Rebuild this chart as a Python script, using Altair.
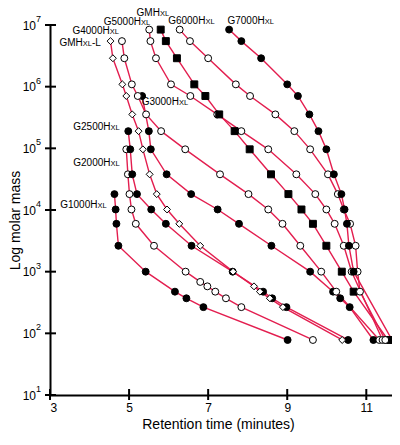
import altair as alt
import pandas as pd

# ---- data ----
# molar-mass levels (standards) in g/mol, index 1..20
MASS = [8.42e6, 5.48e6, 2.89e6, 1.09e6, 7.06e5, 3.55e5, 1.90e5, 9.64e4,
        3.79e4, 1.81e4, 1.02e4, 5.97e3, 2.63e3, 1.0e3, 682, 578, 474, 370, 266, 78]

SERIES = ["G1000HXL", "G2000HXL", "G2500HXL", "G3000HXL", "G4000HXL",
          "G5000HXL", "GMHXL", "G6000HXL", "G7000HXL", "GMHXL-L"]
MARKER = ["dot", "ring", "dot", "dot", "ring", "ring", "square", "ring", "dot", "diamond"]

G1000_LV = [10, 11, 12, 13, 14, 17, 18, 19, 20]
G1000_T = [4.63, 4.66, 4.68, 4.73, 5.42, 6.16, 6.45, 6.88, 9.01]
G2000_LV = [8, 9, 10, 11, 12, 13, 14, 15, 16, 17, 18, 19, 20]
G2000_T = [4.93, 4.97, 5.01, 5.06, 5.17, 5.63, 6.43, 6.80, 6.98, 7.18, 7.45, 7.84, 9.65]
G2500_LV = [7, 8, 9, 10, 11, 12, 13, 14, 17, 18, 19, 20]
G2500_T = [4.98, 5.03, 5.08, 5.20, 5.56, 5.93, 6.58, 7.62, 8.39, 8.62, 8.98, 10.54]
G3000_LV = [5, 7, 8, 9, 10, 11, 12, 13, 14, 17, 18, 19, 20]
G3000_T = [5.33, 5.50, 5.55, 5.95, 6.57, 7.24, 7.78, 8.60, 9.58, 10.16, 10.34, 10.58, 11.18]
G4000_LV = [2, 3, 4, 5, 6, 7, 8, 9, 10, 11, 12, 13, 14, 17, 20]
G4000_T = [4.82, 4.88, 5.07, 5.22, 5.43, 5.81, 6.42, 7.30, 8.02, 8.52, 8.88, 9.33, 9.86, 10.24, 11.33]
G5000_LV = [1, 2, 3, 4, 5, 6, 7, 8, 9, 10, 11, 12, 13, 14, 20]
G5000_T = [5.51, 5.54, 5.68, 6.06, 6.55, 7.23, 7.84, 8.52, 9.23, 9.71, 9.99, 10.20, 10.43, 10.63, 11.41]
GMH_LV = [1, 2, 3, 4, 5, 6, 7, 8, 9, 10, 11, 12, 13, 14, 17, 20]
GMH_T = [5.80, 5.93, 6.21, 6.65, 6.93, 7.28, 7.67, 8.05, 8.59, 9.03, 9.36, 9.65, 9.99, 10.38, 10.68, 11.55]
G6000_LV = [1, 2, 3, 4, 5, 6, 7, 8, 9, 10, 11, 12, 13, 14, 17, 20]
G6000_T = [6.28, 6.54, 7.00, 7.70, 8.06, 8.70, 9.18, 9.58, 10.03, 10.28, 10.43, 10.59, 10.73, 10.78, 10.84, 11.48]
G7000_LV = [1, 2, 3, 4, 5, 6, 7, 8, 9, 10, 11, 12, 13, 14, 20]
G7000_T = [7.53, 7.84, 8.34, 9.00, 9.27, 9.56, 9.79, 9.99, 10.18, 10.37, 10.45, 10.51, 10.56, 10.68, 11.65]
GMHL_LV = [2, 3, 4, 5, 6, 7, 8, 9, 10, 11, 12, 13, 14, 16, 17, 18, 19, 20]
GMHL_T = [4.53, 4.59, 4.83, 4.93, 5.08, 5.24, 5.35, 5.52, 5.70, 5.96, 6.27, 6.80, 7.63, 8.16, 8.31, 8.56, 8.89, 10.39]

LEVELS = [G1000_LV, G2000_LV, G2500_LV, G3000_LV, G4000_LV, G5000_LV, GMH_LV, G6000_LV, G7000_LV, GMHL_LV]
TIMES = [G1000_T, G2000_T, G2500_T, G3000_T, G4000_T, G5000_T, GMH_T, G6000_T, G7000_T, GMHL_T]

# labels: main text, small "XL", suffix, anchor (time, log10 mass)
LABEL_MAIN = ["G1000H", "G2000H", "G2500H", "G3000H", "G4000H", "G5000H", "GMH", "G6000H", "G7000H", "GMH"]
LABEL_SUFFIX = ["", "", "", "", "", "", "", "", "", "-L"]
LABEL_T = [4.20, 4.53, 4.53, 6.26, 4.51, 5.30, 5.78, 6.93, 8.43, 3.83]
LABEL_LOGM = [4.092, 4.779, 5.359, 5.755, 6.915, 7.055, 7.20, 7.070, 7.070, 6.712]

X_TICKS = [3, 5, 7, 9, 11]
Y_EXP = [1, 2, 3, 4, 5, 6, 7]

# ---- build tables ----
rows = []
for name, mk, lv, ts in zip(SERIES, MARKER, LEVELS, TIMES):
    for i, (l, t) in enumerate(zip(lv, ts)):
        rows.append({"series": name, "marker": mk, "i": i, "t": t, "m": MASS[l - 1]})
df = pd.DataFrame(rows)

lab = pd.DataFrame({"main": LABEL_MAIN, "suffix": LABEL_SUFFIX, "t": LABEL_T,
                    "m": [10 ** v for v in LABEL_LOGM]})
lab["sub"] = "XL"
xt = pd.DataFrame({"t": X_TICKS})
yt = pd.DataFrame({"m": [10 ** e for e in Y_EXP], "e": [str(e) for e in Y_EXP]})

FONT = "Liberation Sans, Arial, Helvetica, sans-serif"
RED = "#e31e4f"
W, H = 342, 370

xscale = alt.Scale(domain=[3, 11.65], nice=False, zero=False)
yscale = alt.Scale(type="log", domain=[10, 1e7], nice=False)

X = alt.X("t:Q", scale=xscale, axis=alt.Axis(
    values=X_TICKS, title="Retention time (minutes)", grid=False, ticks=False, tickSize=0,
    labelPadding=7, labelFont=FONT, labelFontSize=12, labelColor="black",
    domainColor="black", domainWidth=2, titleFont=FONT, titleFontSize=14,
    titleFontWeight="normal", titleColor="black", titleX=168, titleY=29,
    titleBaseline="middle", titleAlign="center"))
Y = alt.Y("m:Q", scale=yscale, axis=alt.Axis(
    values=[10 ** e for e in Y_EXP], labelExpr="'10'", title="Log molar mass", grid=False,
    ticks=False, tickSize=0, labelPadding=14.5, labelFont=FONT, labelFontSize=12,
    labelColor="black", labelBaseline="middle", domainColor="black", domainWidth=2,
    titleFont=FONT, titleFontSize=14, titleFontWeight="normal", titleColor="black",
    titleX=-35, titleY=195, titleBaseline="middle", titleAlign="center", titleAngle=270))

lines = alt.Chart(df).mark_line(color=RED, strokeWidth=1.4).encode(
    x=X, y=Y, detail="series:N", order="i:Q")

MK = ["dot", "ring", "square", "diamond"]
points = alt.Chart(df).mark_point(filled=True, stroke="black", strokeWidth=1, opacity=1).encode(
    x=X, y=Y,
    shape=alt.Shape("marker:N", scale=alt.Scale(domain=MK, range=["circle", "circle", "square", "diamond"]),
                    legend=None),
    fill=alt.Fill("marker:N", scale=alt.Scale(domain=MK, range=["black", "white", "black", "white"]),
                  legend=None),
    size=alt.Size("marker:N", scale=alt.Scale(domain=MK, range=[48, 48, 50, 95]), legend=None),
)

xticks = alt.Chart(xt).mark_rule(color="black", strokeWidth=2).encode(
    x=X, y=alt.value(H - 6), y2=alt.value(H + 5))
yticks = alt.Chart(yt).mark_rule(color="black", strokeWidth=2).encode(
    y=Y, x=alt.value(-5), x2=alt.value(6))
yexp = alt.Chart(yt).mark_text(align="left", baseline="middle", dy=-6, fontSize=9, font=FONT,
                               color="black").encode(y=Y, x=alt.value(-14), text="e:N")

lab_main = alt.Chart(lab).mark_text(align="right", baseline="alphabetic", dy=3.6, fontSize=10,
                                    font=FONT, color="black").encode(x=X, y=Y, text="main:N")
lab_sub = alt.Chart(lab).mark_text(align="left", baseline="alphabetic", dy=3.6, fontSize=7.5,
                                   font=FONT, color="black").encode(x=X, y=Y, text="sub:N")
lab_suf = alt.Chart(lab).mark_text(align="left", baseline="alphabetic", dy=3.6, dx=9.2, fontSize=10,
                                   font=FONT, color="black").encode(x=X, y=Y, text="suffix:N")

chart = alt.layer(lines, points, xticks, yticks, yexp, lab_main, lab_sub, lab_suf).properties(
    width=W, height=H,
    autosize=alt.AutoSizeParams(type="none"),
    padding={"left": 42, "top": 17, "right": 0, "bottom": 37},
    background="white",
).configure_view(stroke=None)

chart.save("out.html", embed_options={"renderer": "svg", "actions": False})
